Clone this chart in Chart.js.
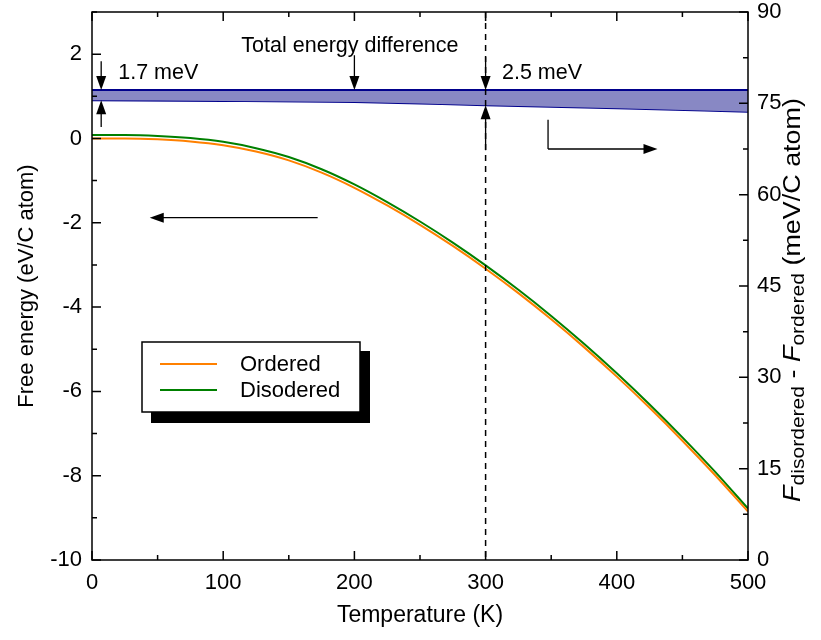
<!DOCTYPE html>
<html>
<head>
<meta charset="utf-8">
<script src="https://cdn.jsdelivr.net/npm/chart.js@4"></script>
<style>
  body { margin: 0; background: #fff; }
  canvas { display: block; }
</style>
</head>
<body>
<canvas id="chart" width="821" height="640"></canvas>
<script>
// temperature grid (K)
const temps = [0, 25, 50, 75, 100, 125, 150, 175, 200, 225, 250, 275, 300, 325, 350, 375, 400, 425, 450, 475, 500];
// free energy, eV/C atom
const orderedF = [0.00, 0.00, -0.02, -0.07, -0.16, -0.31, -0.52, -0.81, -1.17, -1.59, -2.05, -2.55, -3.09, -3.67, -4.29, -4.95, -5.65, -6.39, -7.17, -7.99, -8.85];
const disorderedF = [0.08, 0.08, 0.06, 0.01, -0.08, -0.23, -0.44, -0.73, -1.09, -1.51, -1.97, -2.47, -3.01, -3.59, -4.21, -4.87, -5.57, -6.31, -7.09, -7.91, -8.78];

// difference, meV/C atom (right axis)
const bandT = [0, 100, 200, 300, 400, 500];
const totalDiff = [77.2, 77.2, 77.2, 77.2, 77.2, 77.2];
const freeDiff = [75.5, 75.4, 75.2, 74.7, 74.2, 73.6];

const leftTicks = [-10, -8, -6, -4, -2, 0, 2];
const rightTicks = [0, 15, 30, 45, 60, 75, 90];
const xTicks = [0, 100, 200, 300, 400, 500];

const markerT = 300;
const labels = ['Ordered', 'Disodered'];
const FONT = "'Liberation Sans', Arial, sans-serif";

Chart.defaults.color = '#000';
Chart.defaults.font.family = FONT;

function pts(xs, ys) {
  return xs.map((x, i) => ({ x: x, y: ys[i] }));
}

function arrow(ctx, x1, y1, x2, y2) {
  const a = Math.atan2(y2 - y1, x2 - x1);
  const len = 14, hw = 5;
  ctx.beginPath();
  ctx.moveTo(x1, y1);
  ctx.lineTo(x2 - Math.cos(a) * len * 0.8, y2 - Math.sin(a) * len * 0.8);
  ctx.stroke();
  ctx.beginPath();
  ctx.moveTo(x2, y2);
  ctx.lineTo(x2 - Math.cos(a) * len + Math.sin(a) * hw, y2 - Math.sin(a) * len - Math.cos(a) * hw);
  ctx.lineTo(x2 - Math.cos(a) * len - Math.sin(a) * hw, y2 - Math.sin(a) * len + Math.cos(a) * hw);
  ctx.closePath();
  ctx.fill();
}

// fixed plot box: 92..748 x 12..560
function fitY(width) {
  return s => {
    s.width = width;
    s.paddingTop = 12;
    s.paddingBottom = 0;
  };
}

// frame, inward ticks, dashed marker, arrows, legend, right title
const extras = {
  id: 'extras',
  afterDatasetsDraw(chart) {
    const ctx = chart.ctx;
    const xs = chart.scales.x, yl = chart.scales.y, yr = chart.scales.y1;
    const a = chart.chartArea;
    ctx.save();
    ctx.strokeStyle = '#000';
    ctx.fillStyle = '#000';

    // dashed line at 300 K
    ctx.lineWidth = 1.5;
    ctx.setLineDash([6, 5]);
    ctx.beginPath();
    ctx.moveTo(xs.getPixelForValue(markerT), a.top);
    ctx.lineTo(xs.getPixelForValue(markerT), a.bottom);
    ctx.stroke();
    ctx.setLineDash([]);

    // frame
    ctx.lineWidth = 1.5;
    ctx.strokeRect(a.left, a.top, a.right - a.left, a.bottom - a.top);

    // ticks
    const major = 9, minor = 5;
    ctx.beginPath();
    for (let t = 0; t <= 500; t += 50) {
      const px = xs.getPixelForValue(t);
      const l = t % 100 === 0 ? major : minor;
      ctx.moveTo(px, a.bottom); ctx.lineTo(px, a.bottom - l);
      ctx.moveTo(px, a.top); ctx.lineTo(px, a.top + l);
    }
    for (let v = -10; v <= 3; v += 1) {
      const py = yl.getPixelForValue(v);
      const l = v % 2 === 0 ? major : minor;
      ctx.moveTo(a.left, py); ctx.lineTo(a.left + l, py);
    }
    for (let v = 0; v <= 90; v += 7.5) {
      const py = yr.getPixelForValue(v);
      const l = v % 15 === 0 ? major : minor;
      ctx.moveTo(a.right, py); ctx.lineTo(a.right - l, py);
    }
    ctx.stroke();

    // annotations
    ctx.lineWidth = 1.3;
    ctx.font = '21.5px ' + FONT;
    ctx.textBaseline = 'middle';
    const X = v => xs.getPixelForValue(v);
    const R = v => yr.getPixelForValue(v);
    const L = v => yl.getPixelForValue(v);

    ctx.textAlign = 'center';
    ctx.fillText('Total energy difference', X(196.6), R(84.4));
    ctx.textAlign = 'left';
    ctx.fillText('1.7 meV', X(20), R(80));
    ctx.fillText('2.5 meV', X(312.5), R(80));

    arrow(ctx, X(7), R(81.9), X(7), R(totalDiff[0]));
    arrow(ctx, X(7), R(71.1), X(7), R(freeDiff[0]));
    arrow(ctx, X(200), R(82.9), X(200), R(totalDiff[2]));
    arrow(ctx, X(300), R(82.6), X(300), R(totalDiff[3]));
    arrow(ctx, X(300), R(67.3), X(300), R(freeDiff[3]));

    arrow(ctx, X(172), L(-1.88), X(44), L(-1.88));
    ctx.beginPath();
    ctx.moveTo(X(347.6), R(72.3));
    ctx.lineTo(X(347.6), R(67.5));
    ctx.stroke();
    arrow(ctx, X(347.6), R(67.5), X(431), R(67.5));

    // legend box with shadow
    ctx.fillStyle = '#000';
    ctx.fillRect(151, 351, 219, 72);
    ctx.fillStyle = '#fff';
    ctx.fillRect(142, 342, 218, 70);
    ctx.strokeStyle = '#000';
    ctx.lineWidth = 1.5;
    ctx.strokeRect(142, 342, 218, 70);
    ctx.font = '22px ' + FONT;
    chart.data.datasets.slice(0, 2).forEach((ds, i) => {
      const y = 364 + i * 26;
      ctx.strokeStyle = ds.borderColor;
      ctx.lineWidth = 2;
      ctx.beginPath();
      ctx.moveTo(160, y); ctx.lineTo(217, y);
      ctx.stroke();
      ctx.fillStyle = '#000';
      ctx.textAlign = 'left';
      ctx.fillText(ds.label, 240, y + 1);
    });

    // right axis title with subscripts
    ctx.translate(794, (a.top + a.bottom) / 2 + 14);
    ctx.rotate(-Math.PI / 2);
    ctx.scale(1.17, 1);
    const parts = [
      ['italic 23px ' + FONT, 'F', 0],
      ['18px ' + FONT, 'disordered', 5],
      ['23px ' + FONT, ' - ', 0],
      ['italic 23px ' + FONT, 'F', 0],
      ['18px ' + FONT, 'ordered', 5],
      ['23px ' + FONT, ' (meV/C atom)', 0]
    ];
    let total = 0;
    parts.forEach(p => { ctx.font = p[0]; total += ctx.measureText(p[1]).width; });
    let cx = -total / 2;
    ctx.textAlign = 'left';
    ctx.fillStyle = '#000';
    parts.forEach(p => {
      ctx.font = p[0];
      ctx.fillText(p[1], cx, p[2]);
      cx += ctx.measureText(p[1]).width;
    });
    ctx.restore();
  }
};

new Chart(document.getElementById('chart'), {
  type: 'line',
  data: {
    datasets: [
      {
        label: labels[0],
        data: pts(temps, orderedF),
        borderColor: 'rgb(255,128,0)',
        borderWidth: 2,
        pointRadius: 0,
        cubicInterpolationMode: 'monotone',
        yAxisID: 'y',
        order: 1
      },
      {
        label: labels[1],
        data: pts(temps, disorderedF),
        borderColor: 'rgb(0,128,0)',
        borderWidth: 2,
        pointRadius: 0,
        cubicInterpolationMode: 'monotone',
        yAxisID: 'y',
        order: 2
      },
      {
        label: 'Total energy difference',
        data: pts(bandT, totalDiff),
        borderColor: 'rgb(0,0,140)',
        backgroundColor: 'rgb(136,136,196)',
        borderWidth: 2,
        pointRadius: 0,
        fill: '+1',
        yAxisID: 'y1',
        order: 3
      },
      {
        label: 'Free energy difference',
        data: pts(bandT, freeDiff),
        borderColor: 'rgb(0,0,140)',
        borderWidth: 2,
        pointRadius: 0,
        cubicInterpolationMode: 'monotone',
        fill: false,
        yAxisID: 'y1',
        order: 4
      }
    ]
  },
  options: {
    responsive: false,
    animation: false,
    layout: { padding: 0 },
    plugins: {
      legend: { display: false },
      tooltip: { enabled: false }
    },
    scales: {
      x: {
        type: 'linear',
        min: 0,
        max: 500,
        afterFit: s => { s.height = 80; s.paddingLeft = 0; s.paddingRight = 0; },
        afterBuildTicks: s => { s.ticks = xTicks.map(v => ({ value: v })); },
        grid: { display: false, drawTicks: false },
        border: { display: false },
        ticks: { font: { size: 22 }, padding: 10, maxRotation: 0 },
        title: { display: true, text: 'Temperature (K)', font: { size: 23 }, padding: { top: 0, bottom: 11 } }
      },
      y: {
        position: 'left',
        min: -10,
        max: 3,
        afterFit: fitY(92),
        afterBuildTicks: s => { s.ticks = leftTicks.map(v => ({ value: v })); },
        grid: { display: false, drawTicks: false },
        border: { display: false },
        ticks: { font: { size: 22 }, padding: 10 },
        title: { display: true, text: 'Free energy (eV/C atom)', font: { size: 22 }, padding: { top: 14, bottom: 0 } }
      },
      y1: {
        position: 'right',
        min: 0,
        max: 90,
        afterFit: fitY(73),
        afterBuildTicks: s => { s.ticks = rightTicks.map(v => ({ value: v })); },
        grid: { display: false, drawTicks: false },
        border: { display: false },
        ticks: { font: { size: 22 }, padding: 9 }
      }
    }
  },
  plugins: [extras]
});
</script>
</body>
</html>
